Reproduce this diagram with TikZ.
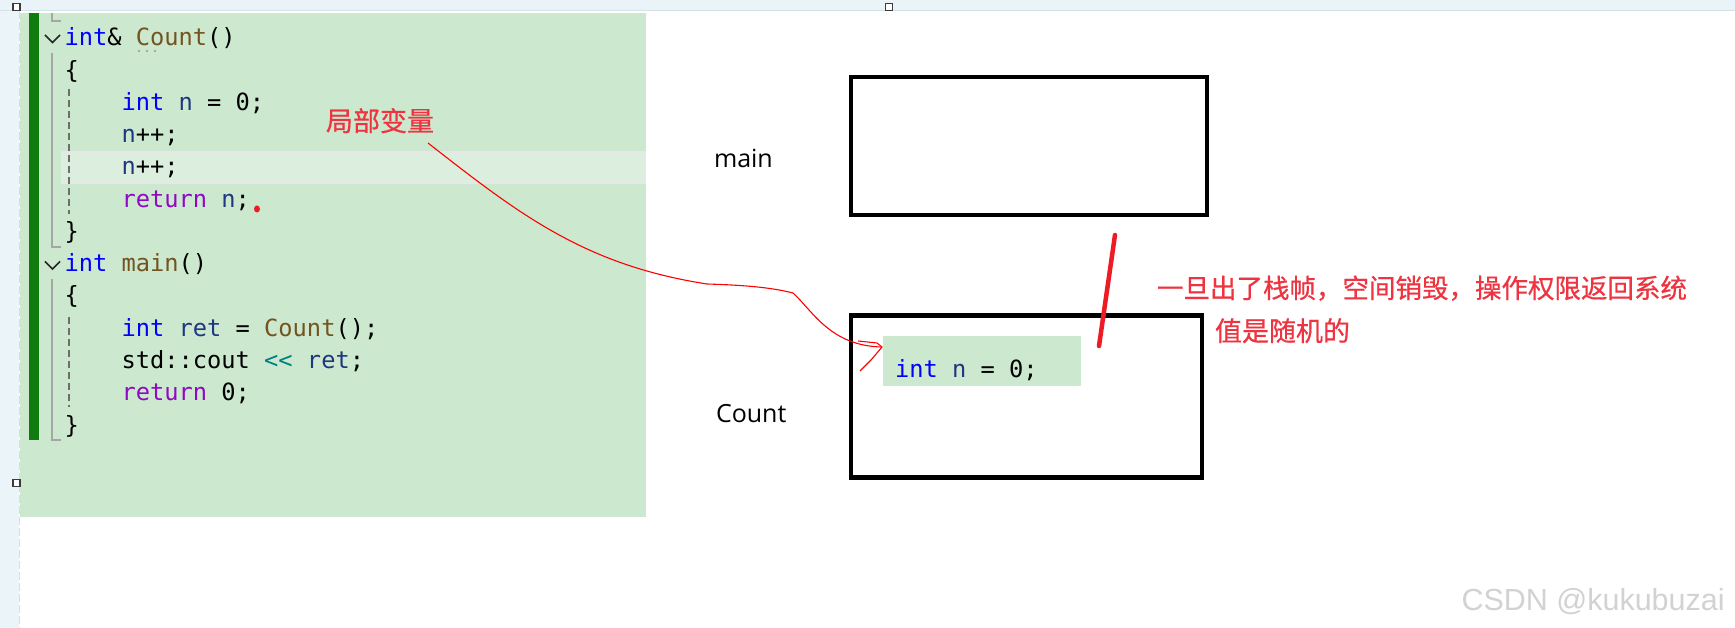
\documentclass[tikz,border=0pt]{standalone}
\usepackage{fontspec}
\newfontfamily\codefont{DejaVu Sans Mono}
\newfontfamily\uifont{Open Sans}
\newfontfamily\cjkfont[FakeBold=0.6]{Noto Sans CJK SC}
\newfontfamily\wmfont{Liberation Sans}
\definecolor{codebg}{HTML}{CCE8CF}
\definecolor{vsgreen}{HTML}{107C10}
\definecolor{bandfill}{HTML}{DCEEDD}
\definecolor{bandline}{HTML}{E5E8E6}
\definecolor{topbar}{HTML}{EAF4F8}
\definecolor{topline}{HTML}{D3E2E5}
\definecolor{leftbar}{HTML}{EBF5F9}
\definecolor{leftline}{HTML}{D8DFE2}
\definecolor{guidegray}{HTML}{A6A6A6}
\definecolor{guidedark}{HTML}{6E6E6E}
\definecolor{kwblue}{HTML}{0000FF}
\definecolor{fnbrown}{HTML}{74531F}
\definecolor{varblue}{HTML}{1F377F}
\definecolor{retpurple}{HTML}{8F08C4}
\definecolor{opteal}{HTML}{008080}
\definecolor{redtxt}{HTML}{EE3440}
\definecolor{redthinc}{HTML}{FF0000}
\definecolor{redmarkc}{HTML}{ED1C24}
\definecolor{wmgray}{HTML}{D2D2D2}
\definecolor{handlec}{HTML}{3C3C3C}
\newcommand\ckw[1]{\textcolor{kwblue}{#1}}
\newcommand\cfn[1]{\textcolor{fnbrown}{#1}}
\newcommand\cvar[1]{\textcolor{varblue}{#1}}
\newcommand\cret[1]{\textcolor{retpurple}{#1}}
\newcommand\cop[1]{\textcolor{opteal}{#1}}
\frenchspacing
\begin{document}
\begin{tikzpicture}[x=1pt,y=-1pt,
  every node/.style={inner sep=0pt,outer sep=0pt},
  code/.style={font=\codefont\fontsize{23.7}{32}\selectfont,anchor=base west,text=black},
  lbl/.style={font=\uifont\fontsize{25}{30}\selectfont,anchor=base west,text=black},
  cjk/.style={font=\cjkfont\fontsize{27}{30}\selectfont,anchor=base west,text=redtxt},
  frame/.style={draw=black,line width=4.5pt,rectangle},
  guide/.style={draw=guidegray,line width=1.5pt},
  guidedash/.style={draw=guidedark,line width=1.5pt,dash pattern=on 7pt off 4pt},
  chev/.style={draw=black!85,line width=1.6pt},
  handle/.style={draw=handlec,fill=white,line width=1.5pt},
  redthin/.style={draw=redthinc,line width=1.1pt,line join=round},
  redmark/.style={draw=redmarkc,line width=4.5pt,line cap=round}]
\useasboundingbox (0,0) rectangle (1735,628);
\fill[white] (0,0) rectangle (1735,628);
% window chrome
\fill[topbar] (0,0) rectangle (1735,10);
\draw[topline,line width=1pt] (0,10.5) -- (1735,10.5);
\fill[leftbar] (0,11) rectangle (19,628);
\draw[leftline,line width=1.5pt,dash pattern=on 8pt off 3pt] (19.5,11) -- (19.5,628);
% code area
\fill[codebg] (20,13) rectangle (646,517);
\fill[vsgreen] (29,13) rectangle (39,440);
\fill[bandfill] (61,151) rectangle (646,184);
\fill[bandline] (61,151) rectangle (646,154);
\fill[bandline] (61,181) rectangle (646,184);
% guides
\draw[guide] (52,13) -- (52,21) -- (61,21);
\draw[guide] (52,53) -- (52,247) -- (61,247);
\draw[guide] (52,279) -- (52,440) -- (61,440);
\draw[guidedash] (69,89) -- (69,214);
\draw[guidedash] (69,317) -- (69,407);
\draw[chev] (45,35) -- (52.5,42.5) -- (60,35);
\draw[chev] (45,261.5) -- (52.5,269) -- (60,261.5);
\fill[guidegray] (139,51) circle (1.4) (147,51) circle (1.4) (155,51) circle (1.4);
% code lines
\node[code] (l1) at (64.5,46) {\ckw{int}\&\ \cfn{Count}()};
\node[code] (l2) at (64.5,78.25) {\{};
\node[code] (l3) at (121.5,110.5) {\ckw{int} \cvar{n} = 0;};
\node[code] (l4) at (121.5,142.75) {\cvar{n}++;};
\node[code] (l5) at (121.5,175) {\cvar{n}++;};
\node[code] (l6) at (121.5,207.25) {\cret{return} \cvar{n};};
\node[code] (l7) at (64.5,239.5) {\}};
\node[code] (l8) at (64.5,271.75) {\ckw{int} \cfn{main}()};
\node[code] (l9) at (64.5,304) {\{};
\node[code] (l10) at (121.5,336.25) {\ckw{int} \cvar{ret} = \cfn{Count}();};
\node[code] (l11) at (121.5,368.5) {std::cout \cop{{<}{<}} \cvar{ret};};
\node[code] (l12) at (121.5,400.75) {\cret{return} 0;};
\node[code] (l13) at (64.5,433) {\}};
\fill[redmarkc] (257,209) ellipse (3 and 3.5);
% selection handles
\draw[handle] (13,3.5) rectangle (20,10.5);
\draw[handle] (885.5,3.5) rectangle (892.5,10.5);
\draw[handle] (13,479.5) rectangle (20,486.5);
% frames
\node[lbl] (mainlbl) at (714,168) {main};
\node[lbl] (countlbl) at (716,422) {Count};
\node[frame,minimum width=356pt,minimum height=138pt] (mainbox) at (1029,146) {};
\node[frame,minimum width=351pt,minimum height=162pt] (countbox) at (1026.5,396.5) {};
\node[fill=codebg,minimum width=198pt,minimum height=50pt] (inner) at (982,361) {};
\node[code] (innertxt) at (895,377) {\ckw{int} \cvar{n} = 0;};
\draw[redmark] (1115,235) -- (1099,346);
% red annotations
\node[cjk] (lv) at (326,131) {局部变量};
\node[cjk,font=\cjkfont\fontsize{26.5}{30}\selectfont] (note1) at (1157,298) {一旦出了栈帧，空间销毁，操作权限返回系统};
\node[cjk] (note2) at (1215,341) {值是随机的};
\coordinate (cstart) at (428,143);
\coordinate (tip) at (882,347);
\draw[redthin] (cstart) .. controls (520,215) and (585,265) .. (707,284)
  .. controls (740,285) and (770,287) .. (793,293)
  .. controls (812,310) and (830,346) .. (tip);
\draw[redthin] (858,341) -- (877,343) -- (tip) -- (871,360) -- (860,371);
% watermark
\node[font=\wmfont\fontsize{30.5}{34}\selectfont,text=wmgray,anchor=base west] (wm) at (1461.5,610) {CSDN @kukubuzai};
\end{tikzpicture}
\end{document}
